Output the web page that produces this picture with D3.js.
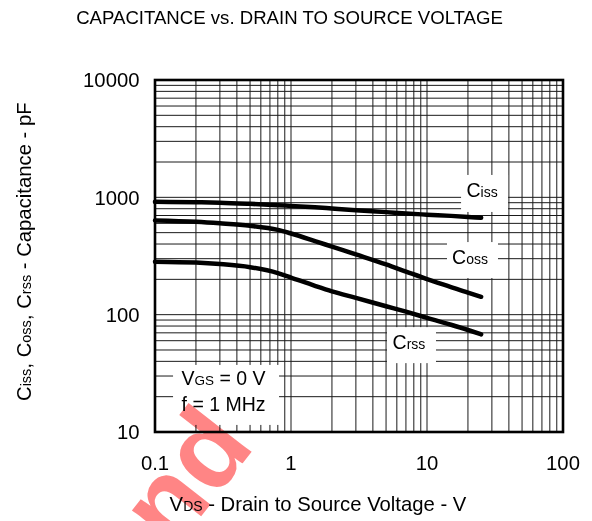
<!DOCTYPE html>
<html>
<head>
<meta charset="utf-8">
<script src="https://cdn.jsdelivr.net/npm/d3@7/dist/d3.min.js"></script>
<style>
  html, body { margin: 0; padding: 0; background: #fff; }
  svg { display: block; }
  text { font-family: "Liberation Sans", Arial, Helvetica, sans-serif; fill: #000; }
</style>
</head>
<body>
<svg id="chart" width="592" height="521"></svg>
<script>
// ---- data ----
const vds  = [0.1, 0.2, 0.3, 0.5, 0.8, 1, 1.5, 2, 3, 5, 7, 10, 15, 20, 25];
const ciss = [915, 908, 900, 880, 858, 845, 822, 803, 777, 748, 728, 712, 695, 681, 670];
const coss = [635, 618, 600, 572, 528, 492, 424, 380, 326, 268, 233, 201, 172, 154, 142];
const crss = [283, 278, 270, 254, 226, 207, 176, 158, 139, 118, 106, 94, 82, 74, 68];
const xTickLabels = [0.1, 1, 10, 100];
const yTickLabels = [10, 100, 1000, 10000];
const seriesNames = ["Ciss", "Coss", "Crss"];
// label anchor positions in data units (V, pF)
const labelPos = [[26.5, 1079], [21.6, 292], [7.69, 55]];

const svg = d3.select("#chart");
const W = 592, H = 521;
const margin = {left: 155, right: 29, top: 80, bottom: 89};

const x = d3.scaleLog().domain([0.1, 100]).range([margin.left, W - margin.right]);
const y = d3.scaleLog().domain([10, 10000]).range([H - margin.bottom, margin.top]);

const FS = 19.5;   // in-plot labels
const FA = 20.3;   // tick labels and axis titles

// title
svg.append("text")
  .attr("x", 289.5).attr("y", 24)
  .attr("text-anchor", "middle")
  .style("font-size", "18.6px")
  .text("CAPACITANCE vs. DRAIN TO SOURCE VOLTAGE");

// grid
const g = svg.append("g");
g.selectAll("line.vx").data(x.ticks()).enter().append("line")
  .attr("x1", d => x(d)).attr("x2", d => x(d))
  .attr("y1", y.range()[0]).attr("y2", y.range()[1])
  .attr("stroke", "#1a1a1a").attr("stroke-width", 1);
g.selectAll("line.hy").data(y.ticks()).enter().append("line")
  .attr("y1", d => y(d)).attr("y2", d => y(d))
  .attr("x1", x.range()[0]).attr("x2", x.range()[1])
  .attr("stroke", "#1a1a1a").attr("stroke-width", 1);

// curves
const line = d3.line().x(d => x(d[0])).y(d => y(d[1])).curve(d3.curveMonotoneX);
[ciss, coss, crss].forEach(s => {
  svg.append("path")
    .datum(vds.map((v, i) => [v, s[i]]))
    .attr("d", line)
    .attr("fill", "none")
    .attr("stroke", "#000")
    .attr("stroke-width", 4.5)
    .attr("stroke-linecap", "round")
    .attr("stroke-linejoin", "round");
});

// series labels with white boxes
const boxSizes = [[47, 37], [51, 36], [49, 36]];
seriesNames.forEach((name, i) => {
  const cx = x(labelPos[i][0]), cy = y(labelPos[i][1]);
  svg.append("rect")
    .attr("x", cx - boxSizes[i][0] / 2).attr("y", cy - boxSizes[i][1] / 2)
    .attr("width", boxSizes[i][0]).attr("height", boxSizes[i][1])
    .attr("fill", "#fff");
  const t = svg.append("text")
    .attr("x", cx - 2.5).attr("y", cy + 4)
    .attr("text-anchor", "middle")
    .style("font-size", FS + "px");
  t.append("tspan").text(name[0]);
  t.append("tspan").style("font-size", "14px").text(name.slice(1));
});

// conditions box
const condPos = [0.333, 20.7];
{
  const cx = x(condPos[0]), cy = y(condPos[1]);
  svg.append("rect")
    .attr("x", cx - 53).attr("y", cy - 30)
    .attr("width", 106).attr("height", 60)
    .attr("fill", "#fff");
  const t1 = svg.append("text").attr("x", cx - 2.5).attr("y", cy - 10)
    .attr("text-anchor", "middle").style("font-size", FS + "px");
  t1.append("tspan").text("V");
  t1.append("tspan").style("font-size", "13.5px").text("GS");
  t1.append("tspan").text(" = 0 V");
  svg.append("text").attr("x", cx - 2.5).attr("y", cy + 16.5)
    .attr("text-anchor", "middle").style("font-size", FS + "px")
    .text("f = 1 MHz");
}

// frame
svg.append("rect")
  .attr("x", x.range()[0]).attr("y", y.range()[1])
  .attr("width", x.range()[1] - x.range()[0])
  .attr("height", y.range()[0] - y.range()[1])
  .attr("fill", "none").attr("stroke", "#000").attr("stroke-width", 2.6);

// tick labels
svg.selectAll("text.xt").data(xTickLabels).enter().append("text")
  .attr("x", d => x(d)).attr("y", 469.5)
  .attr("text-anchor", "middle").style("font-size", FA + "px")
  .text(d => d);
svg.selectAll("text.yt").data(yTickLabels).enter().append("text")
  .attr("x", 139.5).attr("y", d => y(d) + 7.2)
  .attr("text-anchor", "end").style("font-size", FA + "px")
  .text(d => d);

// axis titles
{
  const t = svg.append("text").attr("x", 318).attr("y", 510.5)
    .attr("text-anchor", "middle").style("font-size", FA + "px");
  t.append("tspan").text("V");
  t.append("tspan").style("font-size", "14px").text("DS");
  t.append("tspan").text(" - Drain to Source Voltage - V");
}
{
  const t = svg.append("text")
    .attr("transform", "translate(30.5,251.7) rotate(-90)")
    .attr("text-anchor", "middle").style("font-size", FA + "px");
  t.append("tspan").text("C");
  t.append("tspan").style("font-size", "14.5px").text("iss");
  t.append("tspan").text(", C");
  t.append("tspan").style("font-size", "14.5px").text("oss");
  t.append("tspan").text(", C");
  t.append("tspan").style("font-size", "14.5px").text("rss");
  t.append("tspan").text(" - Capacitance - pF");
}

// watermark
svg.append("text")
  .attr("transform", "translate(256,446) rotate(-52)")
  .attr("text-anchor", "end")
  .style("font-size", "110px").style("font-weight", "bold")
  .style("fill", "#ff8585").style("mix-blend-mode", "multiply")
  .text("nd");
</script>
</body>
</html>
